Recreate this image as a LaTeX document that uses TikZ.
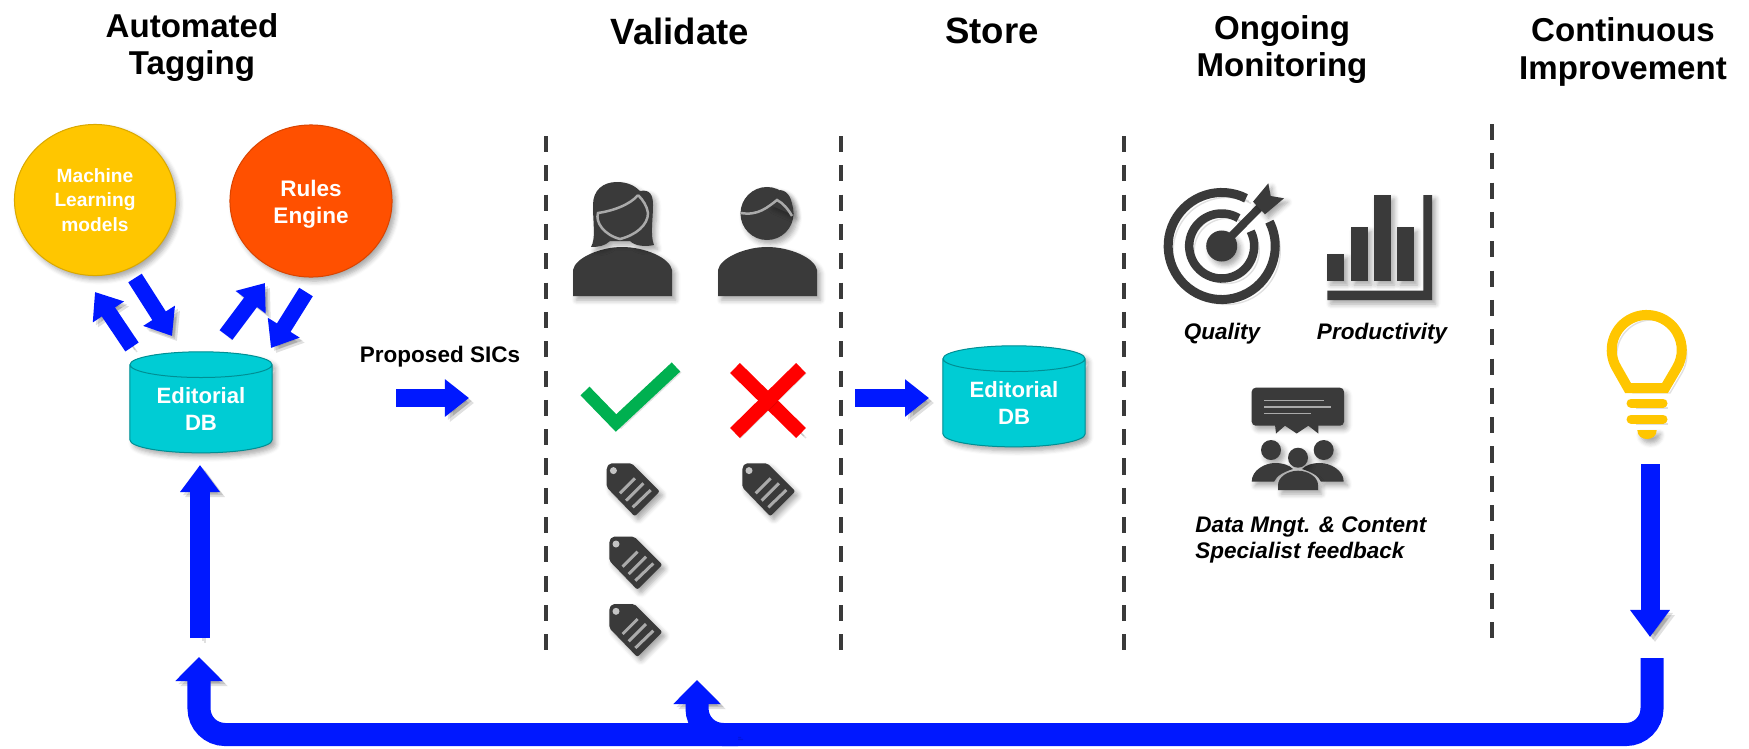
\documentclass[tikz,border=0pt]{standalone}
\usepackage{fontspec}
\setmainfont{Liberation Sans}
\usetikzlibrary{arrows.meta,shapes.geometric,shadows.blur}
\definecolor{flowblue}{RGB}{0,24,255}
\definecolor{icongray}{RGB}{58,58,58}
\definecolor{stripegray}{RGB}{170,170,170}
\definecolor{mlyellow}{RGB}{255,198,0}
\definecolor{rulesorange}{RGB}{255,80,0}
\definecolor{dbteal}{RGB}{0,204,212}
\definecolor{dbtop}{RGB}{102,224,230}
\definecolor{okgreen}{RGB}{0,176,80}
\tikzset{
  softshadow/.style={blur shadow={shadow xshift=.035cm,shadow yshift=-.04cm,shadow blur radius=.05cm,shadow blur steps=5,shadow opacity=35}},
  lineshadow/.style={preaction={draw=black,opacity=.12,transform canvas={shift={(.05cm,-.05cm)}}},preaction={draw=black,opacity=.12,transform canvas={shift={(.03cm,-.03cm)}}}},
  heading/.style={font=\fontsize{9.4}{10.6}\selectfont\bfseries,align=center,text=black},
  bigheading/.style={font=\fontsize{10.4}{12}\selectfont\bfseries,text=black},
  caption/.style={font=\fontsize{6.4}{7.4}\selectfont\bfseries\itshape,text=black},
  sepline/.style={draw=icongray,line width=.034cm,dash pattern=on .16cm off .133cm},
  bubble/.style={ellipse,inner sep=0pt,text=white,align=center,line width=.01cm,softshadow},
  dbnode/.style={cylinder,shape border rotate=90,aspect=.29,draw=dbteal!70!black,line width=.01cm,fill=dbteal,cylinder uses custom fill,cylinder body fill=dbteal,cylinder end fill=dbtop,minimum width=1.42cm,minimum height=1.01cm,inner sep=0pt,text=white,align=center,font=\fontsize{6.3}{7.6}\selectfont\bfseries,softshadow},
  blockarrow/.style={draw=flowblue,line width=.16cm,-{Triangle[length=.24cm,width=.36cm]},lineshadow},
  widearrow/.style={draw=flowblue,line width=.19cm,-{Triangle[length=.27cm,width=.38cm]},lineshadow},
  uarrow/.style={draw=flowblue,line width=.23cm,rounded corners=.26cm,-{Triangle[length=.24cm,width=.46cm]},lineshadow},
  iconfill/.style={fill=icongray,softshadow},
  hairline/.style={draw=stripegray,line width=.025cm},
  tagicon/.pic={
    \fill[iconfill,rounded corners=.02cm] (3,0) -- (25,0) -- (53,28) -- (28,53) -- (0,24) -- (0,4) -- cycle;
    \fill[stripegray!70!white] (6.7,7.3) circle[radius=.035cm];
    \draw[stripegray,line width=.03cm] (13.3,30) -- (28.3,15);
    \draw[stripegray,line width=.03cm] (19.3,37.3) -- (36.7,20);
    \draw[stripegray,line width=.03cm] (26,44) -- (44,26.7);
  }
}
\begin{document}
\begin{tikzpicture}[x=.01cm,y=-.01cm]
  \useasboundingbox (0,0) rectangle (1749,748);

  % headings
  \node[heading] (hTag) at (192,47.5) {Automated\\Tagging};
  \node[bigheading] (hVal) at (680,31) {Validate};
  \node[bigheading] (hSto) at (992,31) {Store};
  \node[heading] (hMon) at (1282,49.5) {Ongoing\\Monitoring};
  \node[heading] (hImp) at (1623,52) {Continuous\\Improvement};

  % separators
  \draw[sepline] (546,136) -- (546,658);
  \draw[sepline] (841,136) -- (841,658);
  \draw[sepline] (1124,136) -- (1124,658);
  \draw[sepline] (1492,124) -- (1492,646);

  % tagging sources
  \node[bubble,fill=mlyellow,draw=mlyellow!85!black,minimum width=1.61cm,minimum height=1.51cm,font=\fontsize{5.45}{6.9}\selectfont\bfseries] (ml) at (95,200) {Machine\\Learning\\models};
  \node[bubble,fill=rulesorange,draw=rulesorange!85!black,minimum width=1.62cm,minimum height=1.52cm,font=\fontsize{6.4}{7.6}\selectfont\bfseries] (rules) at (311,201) {\rule{0pt}{.225cm}Rules\\Engine};
  \node[dbnode] (edb) at (201,409) {Editorial\\DB};
  \node[dbnode] (edbB) at (1014,403) {Editorial\\DB};

  \coordinate (mlOutS) at (132,347);
  \coordinate (mlOutE) at (95,292);
  \coordinate (mlInS) at (135,278);
  \coordinate (mlInE) at (172,336);
  \coordinate (ruOutS) at (226,335);
  \coordinate (ruOutE) at (265,283);
  \coordinate (ruInS) at (306,292);
  \coordinate (ruInE) at (271,348);
  \draw[blockarrow] (mlOutS) -- (mlOutE);
  \draw[blockarrow] (mlInS) -- (mlInE);
  \draw[blockarrow] (ruOutS) -- (ruOutE);
  \draw[blockarrow] (ruInS) -- (ruInE);

  \node[font=\fontsize{6.4}{7.4}\selectfont\bfseries] (sics) at (440,357) {Proposed SICs};
  \coordinate (sicS) at (396,398);
  \coordinate (sicE) at (469,398);
  \draw[blockarrow,line width=.18cm] (sicS) -- (sicE);
  \coordinate (stoS) at (855,398);
  \coordinate (stoE) at (929,398);
  \draw[blockarrow,line width=.18cm] (stoS) -- (stoE);

  % people
  \fill[iconfill] (573,296) -- (573,270) .. controls (575,258) and (600,247) .. (622,247) .. controls (645,247) and (670,258) .. (672,270) -- (672,296) -- cycle;
  \fill[iconfill] (591,247) .. controls (596,238) and (593,225) .. (593,205) .. controls (593,190) and (603,182) .. (617,182) .. controls (628,182) and (635,186) .. (640,191) .. controls (650,189) and (653,195) .. (653,205) .. controls (653,220) and (650,235) .. (654,245) .. controls (645,247) and (635,246) .. (630,241) -- (610,241) .. controls (605,246) and (598,247) .. (591,247) -- cycle;
  \draw[hairline] (638,195) .. controls (630,205) and (612,211) .. (598,213) .. controls (595,222) and (604,235) .. (620,239) .. controls (636,235) and (648,225) .. (648,213) .. controls (647,206) and (643,200) .. (638,195);
  \fill[iconfill] (718,296) -- (718,270) .. controls (720,258) and (745,247) .. (767,247) .. controls (790,247) and (815,258) .. (817,270) -- (817,296) -- cycle;
  \fill[iconfill] (767,213.5) circle[radius=.265cm];
  \fill[iconfill] (780,190) .. controls (788,191) and (793,198) .. (793,215) -- (770,205) -- cycle;
  \draw[hairline] (741,213) .. controls (758,216) and (768,207) .. (777,200) .. controls (783,203) and (788,209) .. (792,216);

  % validate marks
  \draw[okgreen,line width=.125cm,lineshadow,miter limit=10] (585,391) -- (616,423) -- (676,367);
  \coordinate (crossA) at (735,368);
  \coordinate (crossB) at (801,433);
  \coordinate (crossC) at (801,368);
  \coordinate (crossD) at (735,433);
  \draw[red,line width=.14cm,lineshadow] (crossA) -- (crossB);
  \draw[red,line width=.14cm,lineshadow] (crossC) -- (crossD);

  % tags
  \pic at (606.7,463.3) {tagicon};
  \pic at (742.3,463.3) {tagicon};
  \pic at (609.3,536.7) {tagicon};
  \pic at (609.3,604) {tagicon};

  % target
  \draw[icongray,line width=.09cm,lineshadow] (1221.7,246) ++(63:.535cm) arc[start angle=63,end angle=387,radius=.535cm];
  \draw[icongray,line width=.085cm,lineshadow] (1221.7,246) ++(59:.325cm) arc[start angle=59,end angle=387,radius=.325cm];
  \fill[iconfill] (1221.7,246) circle[radius=.155cm];
  \draw[icongray,line width=.08cm] (1221.7,246) -- (1262,205);
  \fill[iconfill] (1253,201.7) -- (1268.3,183.3) -- (1270.7,196) -- (1284,198.3) -- (1265,214.3) -- cycle;

  % bars
  \fill[iconfill] (1327.3,254) rectangle (1344.3,281);
  \fill[iconfill] (1350.7,227.3) rectangle (1367.7,281);
  \fill[iconfill] (1373.7,195) rectangle (1390.7,281);
  \fill[iconfill] (1396.7,227.3) rectangle (1413.7,281);
  \fill[iconfill] (1423.3,195) -- (1432,195) -- (1432,300) -- (1327.3,300) -- (1327.3,290.7) -- (1423.3,290.7) -- cycle;
  \node[caption] (qual) at (1222,334) {Quality};
  \node[caption] (prod) at (1382,334) {Productivity};

  % feedback
  \fill[iconfill,rounded corners=.04cm] (1251.7,387.7) rectangle (1344,425.7);
  \fill[icongray] (1275,425) -- (1276,433.5) -- (1285,425.7) -- (1296.7,433.5) -- (1308.3,425.7) -- (1318.3,433.5) -- (1318.3,425) -- cycle;
  \draw[stripegray,line width=.015cm] (1264,400.7) -- (1324,400.7);
  \draw[stripegray,line width=.015cm] (1264,407) -- (1331.3,407);
  \draw[stripegray,line width=.015cm] (1264,413.3) -- (1311,413.3);
  \fill[iconfill] (1271,450) circle[radius=.1cm];
  \fill[iconfill] (1323.7,450) circle[radius=.1cm];
  \fill[iconfill] (1251.7,481.7) .. controls (1251.7,470) and (1265,463) .. (1275,463) .. controls (1283,463) and (1289,465) .. (1293,469) .. controls (1284,472) and (1277,475) .. (1274,481.7) -- cycle;
  \fill[iconfill] (1343.7,481.7) .. controls (1343.7,470) and (1330,463) .. (1320,463) .. controls (1312,463) and (1306,465) .. (1302,469) .. controls (1311,472) and (1318,475) .. (1321,481.7) -- cycle;
  \fill[iconfill] (1298,457.7) circle[radius=.1cm];
  \fill[iconfill] (1278,490) -- (1278,485) .. controls (1278,477) and (1288,470.7) .. (1298,470.7) .. controls (1308,470.7) and (1318,477) .. (1318,485) -- (1318,490) -- cycle;
  \node[caption,anchor=west,align=left] (fback) at (1183,540) {Data Mngt. \& Content\\Specialist feedback};

  % bulb
  \draw[mlyellow,line width=.1cm,lineshadow,line join=miter] (1628,388) -- (1616.4,367.5) arc[start angle=210,end angle=-30,radius=.35cm] -- (1665,388) -- cycle;
  \draw[mlyellow,line width=.09cm,line cap=round,lineshadow] (1631,403) -- (1663,403);
  \draw[mlyellow,line width=.09cm,line cap=round,lineshadow] (1631,419) -- (1663,419);
  \fill[mlyellow,softshadow] (1637.3,430) -- (1656.7,430) .. controls (1656.7,436) and (1652,439) .. (1647,439) .. controls (1642,439) and (1637.3,436) .. (1637.3,430) -- cycle;

  % return flow
  \coordinate (bulbS) at (1650,464);
  \coordinate (bulbE) at (1650,637);
  \draw[widearrow] (bulbS) -- (bulbE);
  \coordinate (retS) at (1652,658);
  \coordinate (retA) at (1652,734.5);
  \coordinate (retB) at (697,734.5);
  \coordinate (retE) at (697,680);
  \draw[uarrow] (retS) -- (retA) -- (retB) -- (retE);
  \coordinate (backS) at (738,734.5);
  \coordinate (backA) at (199,734.5);
  \coordinate (backE) at (199,657);
  \draw[uarrow] (backS) -- (backA) -- (backE);
  \coordinate (dbS) at (200,638);
  \coordinate (dbE) at (200,465);
  \draw[widearrow] (dbS) -- (dbE);
\end{tikzpicture}
\end{document}
